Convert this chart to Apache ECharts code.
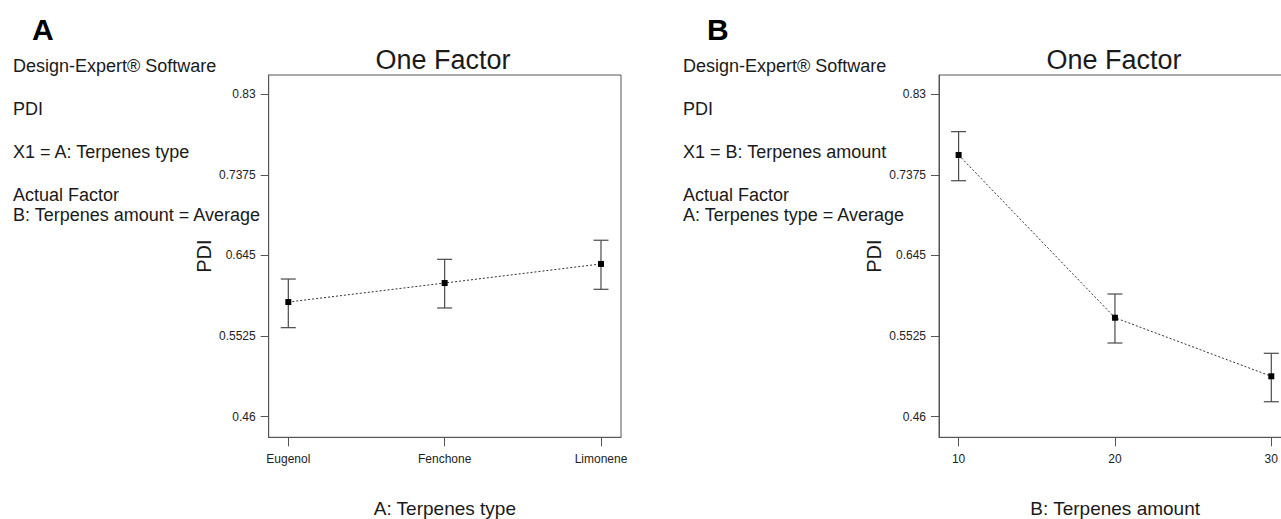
<!DOCTYPE html>
<html>
<head>
<meta charset="utf-8">
<script src="https://cdn.jsdelivr.net/npm/echarts@6/dist/echarts.min.js"></script>
<style>
html,body{margin:0;padding:0;background:#fff;}
#chart{width:1281px;height:519px;}
</style>
</head>
<body>
<div id="chart"></div>
<script>
// ---- data ----
const catsA = ['Eugenol', 'Fenchone', 'Limonene'];
const posA = [1, 2, 3];
const meanA = [0.5916, 0.6134, 0.6353];
const lowA = [0.5622, 0.5848, 0.6062];
const highA = [0.6180, 0.6406, 0.6625];

const amountB = [10, 20, 30];
const meanB = [0.7603, 0.5736, 0.5064];
const lowB = [0.7308, 0.5446, 0.4772];
const highB = [0.7871, 0.6008, 0.5328];

const yTickLabels = ['0.46', '0.5525', '0.645', '0.7375', '0.83'];

const infoA = ['Design-Expert\u00AE Software', 'PDI', 'X1 = A: Terpenes type', 'Actual Factor', 'B: Terpenes amount = Average'];
const infoB = ['Design-Expert\u00AE Software', 'PDI', 'X1 = B: Terpenes amount', 'Actual Factor', 'A: Terpenes type = Average'];

// ---- build ----
const yTickVals = yTickLabels.map(Number);
const FONT = '"Liberation Sans", Arial, sans-serif';
const AXC = '#555';
const TXT = '#1a1a1a';

function zip(xs, a, b) { return xs.map((x, i) => b ? [x, a[i], b[i]] : [x, a[i]]); }

function errRender(params, api) {
  const x = api.value(0);
  const pLo = api.coord([x, api.value(1)]);
  const pHi = api.coord([x, api.value(2)]);
  const w = 7.5;
  const st = { stroke: '#4a4a4a', lineWidth: 1.2 };
  return {
    type: 'group',
    children: [
      { type: 'line', shape: { x1: pHi[0], y1: pHi[1], x2: pLo[0], y2: pLo[1] }, style: st },
      { type: 'line', shape: { x1: pHi[0] - w, y1: pHi[1], x2: pHi[0] + w, y2: pHi[1] }, style: st },
      { type: 'line', shape: { x1: pLo[0] - w, y1: pLo[1], x2: pLo[0] + w, y2: pLo[1] }, style: st }
    ]
  };
}

function yAxisCfg(gi) {
  return {
    type: 'value', gridIndex: gi, min: 0.4364, max: 0.8521,
    name: 'PDI', nameLocation: 'middle', nameGap: 55,
    nameTextStyle: { fontFamily: FONT, fontSize: 20, color: TXT },
    axisLine: { show: true, lineStyle: { color: AXC, width: 1 } },
    axisTick: { show: true, inside: false, length: 8, lineStyle: { color: AXC }, customValues: yTickVals },
    axisLabel: { show: true, margin: 13, fontFamily: FONT, fontSize: 12, color: '#222',
      customValues: yTickVals,
      formatter: v => { const i = yTickVals.findIndex(t => Math.abs(t - v) < 1e-6); return i >= 0 ? yTickLabels[i] : ''; } },
    splitLine: { show: false }
  };
}

function xAxisCfg(gi, mn, mx, vals, labels, name) {
  return {
    type: 'value', gridIndex: gi, min: mn, max: mx,
    name: name, nameLocation: 'middle', nameGap: 62,
    nameTextStyle: { fontFamily: FONT, fontSize: 19, color: TXT },
    axisLine: { show: true, lineStyle: { color: AXC, width: 1 } },
    axisTick: { show: true, inside: false, length: 9, lineStyle: { color: AXC }, customValues: vals },
    axisLabel: { show: true, margin: 16, fontFamily: FONT, fontSize: 12, color: '#222',
      customValues: vals, hideOverlap: false,
      formatter: v => { const i = vals.findIndex(t => Math.abs(t - v) < 1e-6); return i >= 0 ? labels[i] : ''; } },
    splitLine: { show: false }
  };
}

function infoTexts(x0, letterX, titleX, lines, letter) {
  const ys = [66, 108.5, 151.5, 195, 215];
  const els = [{
    type: 'text', x: letterX, y: 29,
    style: { text: letter, font: 'bold 30px ' + FONT, fill: '#000', align: 'left', verticalAlign: 'middle' }
  }, {
    type: 'text', x: titleX, y: 60,
    style: { text: 'One Factor', font: '27px ' + FONT, fill: TXT, align: 'center', verticalAlign: 'middle' }
  }];
  lines.forEach((t, i) => els.push({
    type: 'text', x: x0, y: ys[i],
    style: { text: t, font: '18px ' + FONT, fill: TXT, align: 'left', verticalAlign: 'middle' }
  }));
  return els;
}

const gridA = { left: 268.7, top: 75, width: 352.3, height: 362.3 };
const gridB = { left: 939, top: 75, width: 352.3, height: 362.3 };
const gridStyle = { show: true, borderColor: AXC, borderWidth: 1, backgroundColor: 'transparent',
  containLabel: false, outerBoundsMode: 'none' };

const option = {
  backgroundColor: '#fff',
  animation: false,
  grid: [
    Object.assign({}, gridStyle, gridA),
    Object.assign({}, gridStyle, gridB)
  ],
  xAxis: [
    xAxisCfg(0, 0.8746, 3.128, posA, catsA, 'A: Terpenes type'),
    xAxisCfg(1, 8.746, 31.28, amountB, amountB.map(String), 'B: Terpenes amount')
  ],
  yAxis: [yAxisCfg(0), yAxisCfg(1)],
  graphic: infoTexts(13, 32, 443, infoA, 'A').concat(infoTexts(683, 707, 1114, infoB, 'B')),
  series: [
    { type: 'custom', xAxisIndex: 0, yAxisIndex: 0, renderItem: errRender,
      data: zip(posA, lowA, highA), encode: { x: 0, y: [1, 2] }, z: 2, clip: false },
    { type: 'line', xAxisIndex: 0, yAxisIndex: 0, data: zip(posA, meanA),
      symbol: 'rect', symbolSize: 6, itemStyle: { color: '#000' },
      lineStyle: { color: '#333', width: 1, type: [2, 2] }, z: 3 },
    { type: 'custom', xAxisIndex: 1, yAxisIndex: 1, renderItem: errRender,
      data: zip(amountB, lowB, highB), encode: { x: 0, y: [1, 2] }, z: 2, clip: false },
    { type: 'line', xAxisIndex: 1, yAxisIndex: 1, data: zip(amountB, meanB),
      symbol: 'rect', symbolSize: 6, itemStyle: { color: '#000' },
      lineStyle: { color: '#333', width: 1, type: [2, 2] }, z: 3 }
  ]
};

const chart = echarts.init(document.getElementById('chart'), null, { renderer: 'svg' });
chart.setOption(option);
</script>
</body>
</html>
